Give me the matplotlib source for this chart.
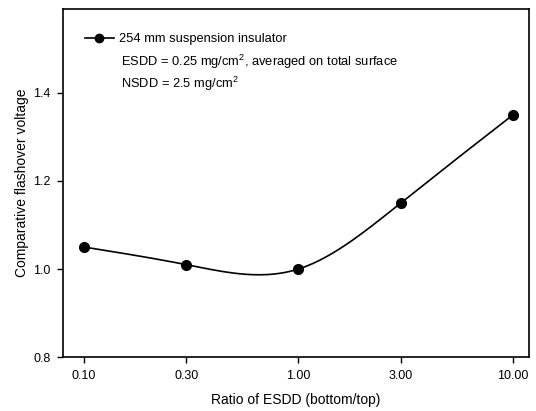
import numpy as np
import matplotlib
matplotlib.use("Agg")
import matplotlib.pyplot as plt

# data
esdd_ratio = [0.10, 0.30, 1.00, 3.00, 10.00]
flashover = [1.05, 1.01, 1.00, 1.15, 1.35]
xtick_labels = ["0.10", "0.30", "1.00", "3.00", "10.00"]
yticks = [0.8, 1.0, 1.2, 1.4]

plt.rcParams['font.family'] = ['Liberation Sans', 'DejaVu Sans']
plt.rcParams['mathtext.fontset'] = 'custom'
plt.rcParams['mathtext.rm'] = 'Liberation Sans'
plt.rcParams['mathtext.it'] = 'Liberation Sans'


def natural_spline(x, y, n=200):
    # smooth line through the points (natural cubic spline)
    x = np.asarray(x, float)
    y = np.asarray(y, float)
    k = len(x)
    h = np.diff(x)
    A = np.zeros((k, k))
    b = np.zeros(k)
    A[0, 0] = A[-1, -1] = 1
    for i in range(1, k - 1):
        A[i, i - 1] = h[i - 1]
        A[i, i] = 2 * (h[i - 1] + h[i])
        A[i, i + 1] = h[i]
        b[i] = 3 * ((y[i + 1] - y[i]) / h[i] - (y[i] - y[i - 1]) / h[i - 1])
    c = np.linalg.solve(A, b)
    xs, ys = [], []
    for i in range(k - 1):
        bi = (y[i + 1] - y[i]) / h[i] - h[i] * (2 * c[i] + c[i + 1]) / 3
        di = (c[i + 1] - c[i]) / (3 * h[i])
        t = np.linspace(0, h[i], n // (k - 1))
        xs.append(x[i] + t)
        ys.append(y[i] + bi * t + c[i] * t ** 2 + di * t ** 3)
    return np.concatenate(xs), np.concatenate(ys)


W, H = 536, 411
fig = plt.figure(figsize=(W / 100, H / 100), dpi=100)
ax = fig.add_axes([0.1175, 0.131, 0.87, 0.847])

lx, ly = natural_spline(np.log10(esdd_ratio), flashover)
ax.plot(10 ** lx, ly, color='black', lw=1.2)
ax.plot(esdd_ratio, flashover, 'o', color='black', ms=7)

# legend handle
ax.plot([], [], '-o', color='black', lw=1.2, ms=6, label='254 mm suspension insulator')
leg = ax.legend(loc='upper left', bbox_to_anchor=(0.0365, 0.945), frameon=False,
                fontsize=9.3, handlelength=2.2, handletextpad=0.45, borderaxespad=0)

fig.text(121 / W, 1 - 62 / H, 'ESDD = 0.25 mg/cm$^2$, averaged on total surface',
         fontsize=9.3, va='center')
fig.text(121 / W, 1 - 84 / H, 'NSDD = 2.5 mg/cm$^2$', fontsize=9.3, va='center')

ax.set_xscale('log')
ax.set_xlim(0.08, 11.9)
ax.set_ylim(0.8, 1.59)
ax.set_xticks(esdd_ratio)
ax.set_xticklabels(xtick_labels)
ax.minorticks_off()
ax.set_yticks(yticks)
ax.set_yticklabels([f"{v:.1f}" for v in yticks])
ax.tick_params(direction='out', length=4, width=1, labelsize=9, pad=5)

ax.set_xlabel('Ratio of ESDD (bottom/top)', fontsize=10, labelpad=8)
ax.set_ylabel('Comparative flashover voltage', fontsize=10, labelpad=3)

for s in ax.spines.values():
    s.set_linewidth(1.2)

fig.savefig('out.png', dpi=100)
